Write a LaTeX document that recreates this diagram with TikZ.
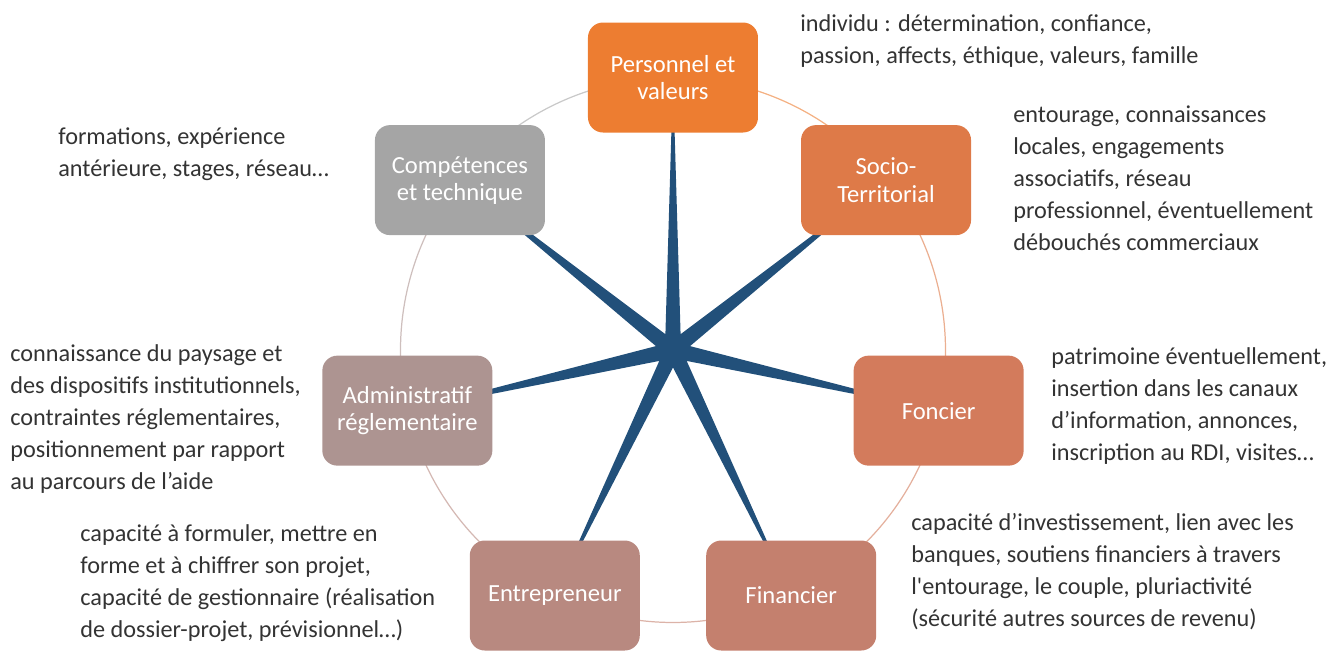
\documentclass[tikz,border=0pt]{standalone}
\usepackage{fontspec}
\setmainfont{Carlito}
\usepackage{tikz}
\usetikzlibrary{shapes,arrows,positioning,fit,backgrounds}
\usepackage{xcolor}
\definecolor{persC}{HTML}{ED7D31}
\definecolor{socC}{HTML}{DE7A48}
\definecolor{fonC}{HTML}{D37B5C}
\definecolor{finC}{HTML}{C4806E}
\definecolor{entC}{HTML}{B88980}
\definecolor{admC}{HTML}{AD9491}
\definecolor{compC}{HTML}{A5A5A5}
\definecolor{starC}{HTML}{22507A}
\definecolor{noteC}{HTML}{333333}

\begin{document}
\begin{tikzpicture}[
    box/.style={rounded corners=0.3cm, minimum width=3.4cm, minimum height=2.2cm, text=white, align=center, font=\fontsize{14}{15.4}\selectfont},
    note/.style={anchor=north west, inner sep=0pt, align=left, text=noteC, font=\fontsize{13.8}{18.3}\selectfont}
]
    \useasboundingbox (-13.46,7.0) rectangle (13.4,-6.04);

    \node[box, fill=persC] (pers) at (90:5.45) {Personnel et\\valeurs};
    \node[box, fill=socC] (soc) at (38.57:5.45) {Socio-\\Territorial};
    \node[box, fill=fonC] (fon) at (-12.86:5.45) {Foncier};
    \node[box, fill=finC] (fin) at (-64.29:5.45) {Financier};
    \node[box, fill=entC] (ent) at (-115.71:5.45) {Entrepreneur};
    \node[box, fill=admC] (adm) at (-167.14:5.45) {Administratif\\réglementaire};
    \node[box, fill=compC] (comp) at (141.43:5.45) {Compétences\\et technique};

    \node[note] (persN) at (2.54,6.72) {individu : détermination, confiance,\\passion, affects, éthique, valeurs, famille};
    \node[note] (socN) at (6.80,4.90) {entourage, connaissances\\locales, engagements\\associatifs, réseau\\professionnel, éventuellement\\débouchés commerciaux};
    \node[note] (fonN) at (7.56,0.06) {patrimoine éventuellement,\\insertion dans les canaux\\d’information, annonces,\\inscription au RDI, visites…};
    \node[note] (finN) at (4.76,-3.26) {capacité d’investissement, lien avec les\\banques, soutiens financiers à travers\\l\textquotesingle entourage, le couple, pluriactivité\\(sécurité autres sources de revenu)};
    \node[note] (entN) at (-11.86,-3.48) {capacité à formuler, mettre en\\forme et à chiffrer son projet,\\capacité de gestionnaire (réalisation\\de dossier-projet, prévisionnel…)};
    \node[note] (admN) at (-13.26,0.12) {connaissance du paysage et\\des dispositifs institutionnels,\\contraintes réglementaires,\\positionnement par rapport\\au parcours de l’aide};
    \node[note] (compN) at (-12.30,4.46) {formations, expérience\\antérieure, stages, réseau…};

    \begin{pgfonlayer}{background}
        % ring between the boxes
        \foreach \a/\b/\c in {90/38.57/persC, 38.57/-12.86/socC, -12.86/-64.29/fonC, -64.29/-115.71/finC, -115.71/-167.14/entC, -167.14/-218.57/admC, 141.43/90/compC}
            \draw[\c!60, line width=0.7pt] (\a:5.45) arc[start angle=\a, end angle=\b, radius=5.45];
        % star
        \fill[starC] (pers.center) -- (64.29:0.35) -- (soc.center) -- (12.86:0.35) -- (fon.center) -- (-38.57:0.35) -- (fin.center) -- (-90:0.35) -- (ent.center) -- (-141.43:0.35) -- (adm.center) -- (167.14:0.35) -- (comp.center) -- (115.71:0.35) -- cycle;
    \end{pgfonlayer}
\end{tikzpicture}
\end{document}
